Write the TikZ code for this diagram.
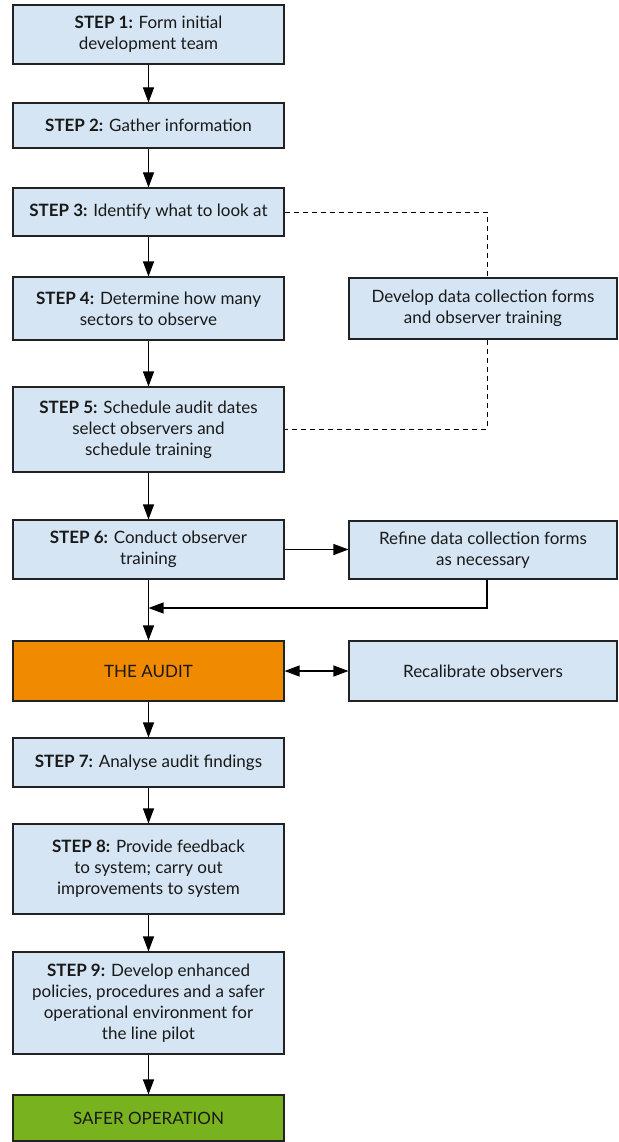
\documentclass[tikz,border=0pt]{standalone}
\usepackage{fontspec}
\setmainfont{Lato}
\usetikzlibrary{arrows.meta}
\definecolor{boxblue}{HTML}{D5E5F3}
\definecolor{auditorange}{HTML}{F08A00}
\definecolor{safegreen}{HTML}{78B21E}
\definecolor{edge}{HTML}{222222}
\tikzset{
  stepbox/.style={draw=edge, line width=1.1pt, fill=boxblue, align=center,
    minimum width=271pt, inner sep=2pt, font=\fontsize{17}{21}\selectfont, text=black!90},
  sidebox/.style={stepbox, minimum width=268pt},
  arr/.style={-{Triangle[length=15pt,width=11pt]}, line width=1.1pt},
  darr/.style={{Triangle[length=15pt,width=11pt]}-{Triangle[length=15pt,width=11pt]}, line width=1.1pt},
  dash line/.style={dashed, dash pattern=on 5pt off 4pt, line width=1pt}
}
\newcommand{\stp}[1]{\textbf{STEP #1:}}
\begin{document}
\begin{tikzpicture}[x=1pt,y=-1pt]
\useasboundingbox (0,0) rectangle (618,1142);
\node[stepbox, minimum height=59pt] (s1) at (148.5,34.5) {\stp{1} Form initial\\development team};
\node[stepbox, minimum height=45pt] (s2) at (148.5,125.5) {\stp{2} Gather information};
\node[stepbox, minimum height=48pt] (s3) at (148.5,212) {\stp{3} Identify what to look at};
\node[stepbox, minimum height=63pt] (s4) at (148.5,308.5) {\stp{4} Determine how many\\sectors to observe};
\node[stepbox, minimum height=85pt] (s5) at (148.5,429.5) {\stp{5} Schedule audit dates\\select observers and\\schedule training};
\node[stepbox, minimum height=59pt] (s6) at (148.5,549.5) {\stp{6} Conduct observer\\training};
\node[stepbox, fill=auditorange, minimum height=60pt] (audit) at (148.5,671) {THE AUDIT};
\node[stepbox, minimum height=49pt] (s7) at (148.5,762.5) {\stp{7} Analyse audit findings};
\node[stepbox, minimum height=90pt] (s8) at (148.5,869) {\stp{8} Provide feedback\\to system; carry out\\improvements to system};
\node[stepbox, minimum height=102pt] (s9) at (148.5,1003) {\stp{9} Develop enhanced\\policies, procedures and a safer\\operational environment for\\the line pilot};
\node[stepbox, fill=safegreen, minimum height=46pt] (safer) at (148.5,1118) {SAFER OPERATION};

\node[sidebox, minimum height=61pt] (dev) at (483,308.5) {Develop data collection forms\\and observer training};
\node[sidebox, minimum height=58pt] (ref) at (483,550) {Refine data collection forms\\as necessary};
\node[sidebox, minimum height=60pt] (rec) at (483,671) {Recalibrate observers};

\draw[arr] (s1) -- (s2);
\draw[arr] (s2) -- (s3);
\draw[arr] (s3) -- (s4);
\draw[arr] (s4) -- (s5);
\draw[arr] (s5) -- (s6);
\draw[arr] (s6) -- (audit);
\draw[arr] (audit) -- (s7);
\draw[arr] (s7) -- (s8);
\draw[arr] (s8) -- (s9);
\draw[arr] (s9) -- (safer);

\coordinate (d1) at (487,212);
\coordinate (d2) at (487,429);
\draw[dash line] (s3.east) -- (d1) -- (d1 |- dev.north);
\draw[dash line] (d2 |- dev.south) -- (d2) -- (s5.east |- d2);

\draw[arr] (s6.east) -- (ref.west |- s6.east);
\coordinate (fb) at (487,608);
\draw[arr] (ref.south -| fb) -- (fb) -- (s6.south |- fb);
\draw[darr] (audit.east) -- (rec.west);
\end{tikzpicture}
\end{document}
